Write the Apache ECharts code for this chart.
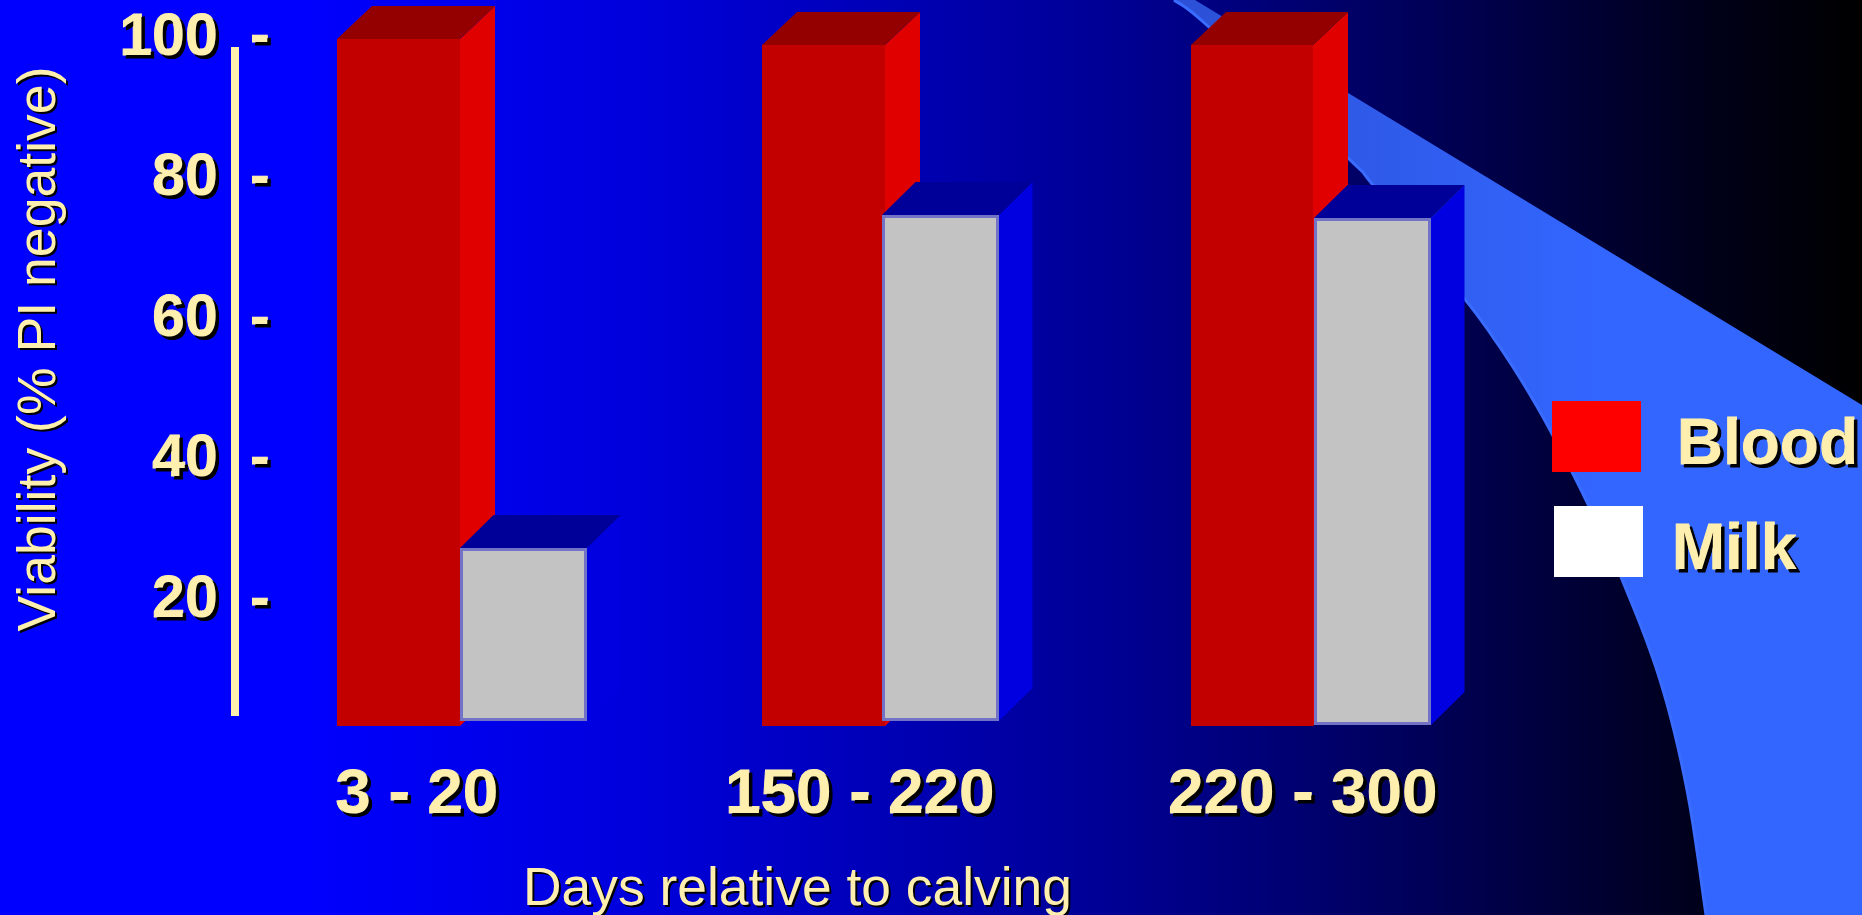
<!DOCTYPE html>
<html>
<head>
<meta charset="utf-8">
<style>html,body{margin:0;padding:0;background:#000}#chart{width:1862px;height:915px}</style>
<script src="https://cdn.jsdelivr.net/npm/echarts@6/dist/echarts.min.js"></script>
</head>
<body>
<div id="chart"></div>
<script>
// Viability of cells in blood and milk across lactation stages
const categories = ['3 - 20', '150 - 220', '220 - 300'];
const bloodTop = [99.9, 99.1, 99.1];
const bloodBase = [2.2, 2.2, 2.2];
const milkTop = [27.5, 74.9, 74.4];
const milkBase = [2.9, 2.9, 2.4];
const yTicks = [20, 40, 60, 80, 100];

const CREAM = '#FFEFAF';
const FONT = '"Liberation Sans", Arial, sans-serif';
const shadow = { textShadowColor: '#000', textShadowBlur: 0.5, textShadowOffsetX: 3, textShadowOffsetY: 3,
  textBorderColor: CREAM, textBorderWidth: 1 };
const thinShadow = { textShadowColor: '#000', textShadowBlur: 0.5, textShadowOffsetX: 2, textShadowOffsetY: 2 };

// Drawing layout of each cluster, in pixels relative to the band centre
const DEPTH_Y = 33;
const bloodLayout = [{ dx: -123, w: 123 }, { dx: -124.5, w: 122.7 }, { dx: -122, w: 122 }];
const milkLayout = [{ dx: 0, w: 127 }, { dx: -5, w: 117.5 }, { dx: 1, w: 116.6 }];

function box(api, layout, faces, border) {
  const i = api.value(0);
  const centre = api.coord([i, api.value(1)]);
  const bottom = Math.round(api.coord([i, api.value(2)])[1]);
  const x0 = Math.round(centre[0] + layout[i].dx);
  const x1 = Math.round(centre[0] + layout[i].dx + layout[i].w);
  const y0 = Math.round(centre[1]);
  const d = faces.depth;
  const front = border
    ? { type: 'rect', shape: { x: x0 + 1.5, y: y0 + 1.5, width: x1 - x0 - 3, height: bottom - y0 - 3 },
        style: { fill: faces.front, stroke: border, lineWidth: 3 } }
    : { type: 'rect', shape: { x: x0, y: y0, width: x1 - x0, height: bottom - y0 }, style: { fill: faces.front } };
  return {
    type: 'group',
    children: [
      { type: 'polygon', shape: { points: [[x1, y0], [x1 + d, y0 - DEPTH_Y], [x1 + d, bottom - DEPTH_Y], [x1, bottom]] }, style: { fill: faces.side } },
      { type: 'polygon', shape: { points: [[x0, y0], [x0 + d, y0 - DEPTH_Y], [x1 + d, y0 - DEPTH_Y], [x1, y0]] }, style: { fill: faces.top } },
      front
    ]
  };
}

const bloodFaces = { front: '#C20000', side: '#E00000', top: '#940000', depth: 35 };
const milkFaces = { front: '#C3C3C3', side: '#0000E0', top: '#000098', depth: 33.5 };

// Backdrop sweep, running from the top edge down to the lower right corner
const sweepGuide = [[1174, 0], [1210, 28], [1348, 158], [1373, 185], [1464, 298], [1497, 343], [1523, 383], [1550, 430],
  [1585, 498], [1621, 577], [1660, 680], [1687, 790], [1706, 915]];
const sweepOuter = [[1862, 915], [1862, 405], [1195, 0]];

// Rounds the guide points of the sweep's curved edge
function rounded(points) {
  const out = [];
  for (let i = 0; i < points.length - 1; i++) {
    const p0 = points[Math.max(i - 1, 0)], p1 = points[i], p2 = points[i + 1], p3 = points[Math.min(i + 2, points.length - 1)];
    for (let s = 0; s < 8; s++) {
      const t = s / 8, t2 = t * t, t3 = t2 * t;
      out.push([0, 1].map(k => 0.5 * (2 * p1[k] + (p2[k] - p0[k]) * t + (2 * p0[k] - 5 * p1[k] + 4 * p2[k] - p3[k]) * t2 + (3 * p1[k] - p0[k] - 3 * p2[k] + p3[k]) * t3)));
    }
  }
  out.push(points[points.length - 1]);
  return out;
}
const sweepLower = rounded(sweepGuide);

// The swatch path sits at the top of a taller item box, so each name centres a little below its swatch
const swatch = 'path://M0 0H89V71H0ZM0 90H0';
const legendText = { color: CREAM, fontFamily: FONT, fontWeight: 'bold', fontSize: 64, ...shadow };
const legendBase = { orient: 'vertical', icon: swatch, itemWidth: 89, itemHeight: 90, padding: 0, selectedMode: false, itemStyle: { borderWidth: 0 } };

const option = {
  animation: false,
  backgroundColor: {
    type: 'linear', x: 0, y: 0, x2: 1, y2: 0,
    colorStops: [
      { offset: 0, color: '#0000FF' }, { offset: 0.16, color: '#0000FF' }, { offset: 0.34, color: '#0000DC' },
      { offset: 0.59, color: '#000096' }, { offset: 0.75, color: '#00005E' }, { offset: 0.92, color: '#000018' },
      { offset: 1, color: '#000000' }
    ]
  },
  graphic: [
    { type: 'polygon', z: -1, silent: true, shape: { points: sweepLower.concat(sweepOuter) },
      style: { fill: { type: 'linear', x: 1174, y: 0, x2: 1600, y2: 0, global: true,
        colorStops: [{ offset: 0, color: '#2C50D6' }, { offset: 1, color: '#3366FF' }] } } },
    { type: 'polyline', z: -1, silent: true, shape: { points: sweepLower }, style: { fill: null, stroke: '#3A6CFF', lineWidth: 3 } }
  ],
  legend: [
    { ...legendBase, data: ['Blood'], left: 1552, top: 401, textStyle: { ...legendText, padding: [0, 0, 0, 31] } },
    { ...legendBase, data: ['Milk'], left: 1554, top: 506, textStyle: { ...legendText, padding: [0, 0, 0, 24] } }
  ],
  grid: [
    { left: 247, width: 1279.5, top: 38.4, height: 703, outerBoundsMode: 'none' },
    { left: 195.5, width: 1329, top: 47, height: 669, outerBoundsMode: 'none' }
  ],
  xAxis: [
    { gridIndex: 0, type: 'category', data: categories, show: false },
    { gridIndex: 1, type: 'category', data: categories,
      axisLine: { show: false }, axisTick: { show: false },
      axisLabel: { margin: 47, color: CREAM, fontFamily: FONT, fontWeight: 'bold', fontSize: 63.8, ...shadow },
      name: 'Days relative to calving', nameLocation: 'middle', nameGap: 148,
      nameTextStyle: { color: CREAM, fontFamily: FONT, fontSize: 53.4, padding: [0, 125, 0, 0], ...thinShadow } }
  ],
  yAxis: [
    { gridIndex: 0, type: 'value', min: 0, max: 100, interval: 20,
      axisLine: { show: false }, axisTick: { show: false }, splitLine: { show: false },
      axisLabel: { margin: 29, color: CREAM, fontFamily: FONT, fontWeight: 'bold', fontSize: 59,
        formatter: v => yTicks.includes(v) ? String(v) : '', ...shadow } },
    { gridIndex: 0, type: 'value', min: 0, max: 100, interval: 20, position: 'left', offset: -22.5,
      axisLine: { show: false }, axisTick: { show: false }, splitLine: { show: false },
      axisLabel: { margin: 0, color: CREAM, fontFamily: FONT, fontWeight: 'bold', fontSize: 58,
        formatter: v => yTicks.includes(v) ? '-' : '', ...shadow } },
    { gridIndex: 1, type: 'value', min: 0, max: 100, position: 'left', offset: -39.5,
      axisLine: { show: true, lineStyle: { color: CREAM, width: 8, cap: 'butt' } },
      axisTick: { show: false }, axisLabel: { show: false }, splitLine: { show: false },
      name: 'Viability (% PI negative)', nameLocation: 'middle', nameGap: 168, nameRotate: 90,
      nameTextStyle: { color: CREAM, fontFamily: FONT, fontSize: 53.6, padding: [0, 0, 0, 65], ...thinShadow } }
  ],
  series: [
    { name: 'Blood', type: 'custom', xAxisIndex: 0, yAxisIndex: 0, itemStyle: { color: '#FF0000' },
      data: categories.map((_, i) => [i, bloodTop[i], bloodBase[i]]),
      encode: { x: 0, y: 1 },
      renderItem: (params, api) => box(api, bloodLayout, bloodFaces) },
    { name: 'Milk', type: 'custom', xAxisIndex: 0, yAxisIndex: 0, itemStyle: { color: '#FFFFFF' },
      data: categories.map((_, i) => [i, milkTop[i], milkBase[i]]),
      encode: { x: 0, y: 1 },
      renderItem: (params, api) => box(api, milkLayout, milkFaces, '#7272C6') }
  ]
};

echarts.init(document.getElementById('chart'), null, { renderer: 'canvas' }).setOption(option);
</script>
</body>
</html>
